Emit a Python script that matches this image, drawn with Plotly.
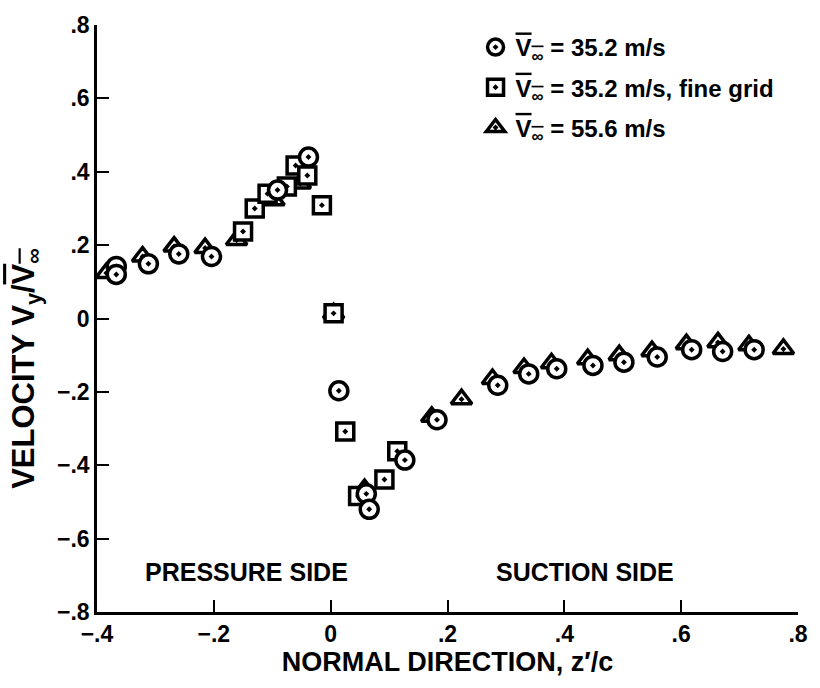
import plotly.graph_objects as go

# 35.2 m/s (circles)
circ_x = [-0.367, -0.367, -0.312, -0.26, -0.204, -0.091, -0.038, 0.014, 0.061, 0.066,
          0.127, 0.182, 0.286, 0.339, 0.387, 0.449, 0.502, 0.559, 0.618, 0.671, 0.725]
circ_y = [0.142, 0.12, 0.149, 0.176, 0.169, 0.35, 0.44, -0.197, -0.478, -0.52,
          -0.386, -0.276, -0.182, -0.151, -0.137, -0.128, -0.119, -0.105, -0.085, -0.09, -0.085]

# 35.2 m/s fine grid (squares)
sq_x = [-0.15, -0.13, -0.108, -0.075, -0.06, -0.04, -0.015, 0.005, 0.025, 0.047, 0.092, 0.114]
sq_y = [0.237, 0.30, 0.34, 0.36, 0.417, 0.39, 0.309, 0.014, -0.308, -0.484, -0.439, -0.362]

# 55.6 m/s (triangles)
tri_x = [-0.384, -0.322, -0.268, -0.215, -0.161, -0.097, -0.052, 0.005, 0.058, 0.173, 0.224,
         0.277, 0.331, 0.378, 0.44, 0.494, 0.55, 0.609, 0.663, 0.716, 0.775]
tri_y = [0.124, 0.169, 0.196, 0.192, 0.214, 0.322, 0.368, 0.014, -0.465, -0.268, -0.22,
         -0.165, -0.135, -0.122, -0.111, -0.1, -0.089, -0.07, -0.065, -0.073, -0.083]

x_ticks = [-0.4, -0.2, 0, 0.2, 0.4, 0.6, 0.8]
x_tick_text = ["\u2212.4", "\u2212.2", "0", ".2", ".4", ".6", ".8"]
y_ticks = [-0.8, -0.6, -0.4, -0.2, 0, 0.2, 0.4, 0.6, 0.8]
y_tick_text = ["\u2212.8", "\u2212.6", "\u2212.4", "\u2212.2", "0", ".2", ".4", ".6", ".8"]

VBAR = '<span style="text-decoration:overline">V<sub>\u221e</sub></span>'
names = [VBAR + " = 35.2 m/s", VBAR + " = 35.2 m/s, fine grid", VBAR + " = 55.6 m/s"]

FONT = "Liberation Sans, Arial, sans-serif"

def mk(symbol, size):
    return dict(symbol=symbol, size=size, color="white", line=dict(color="black", width=3.5))

fig = go.Figure()
fig.add_trace(go.Scatter(x=tri_x, y=tri_y, mode="markers", name=names[2], legendrank=3,
                         legendgroup="c", marker=mk("triangle-up-dot", 18)))
fig.add_trace(go.Scatter(x=sq_x, y=sq_y, mode="markers", name=names[1], legendrank=2,
                         legendgroup="b", marker=mk("square-dot", 17)))
fig.add_trace(go.Scatter(x=circ_x, y=circ_y, mode="markers", name=names[0], legendrank=1,
                         legendgroup="a", marker=mk("circle-dot", 18)))

fig.add_annotation(x=-0.144, y=-0.692, text="PRESSURE SIDE", showarrow=False,
                   font=dict(size=25, family=FONT, color="black", weight="bold"))
fig.add_annotation(x=0.436, y=-0.692, text="SUCTION SIDE", showarrow=False,
                   font=dict(size=25, family=FONT, color="black", weight="bold"))
fig.add_annotation(xref="paper", yref="paper", x=-0.132, y=0.415, textangle=-90,
                   text="VELOCITY V<sub>y</sub>/" + VBAR, showarrow=False,
                   font=dict(size=31, family=FONT, color="black", weight="bold"))

fig.update_layout(
    width=820, height=688,
    margin=dict(l=97, r=12, t=20, b=76),
    plot_bgcolor="white", paper_bgcolor="white",
    font=dict(family=FONT, color="black", size=23, weight="bold"),
    showlegend=True,
    legend=dict(x=0.54, y=1.0, xanchor="left", yanchor="top", bgcolor="rgba(0,0,0,0)",
                traceorder="grouped", tracegroupgap=6,
                font=dict(size=24, family=FONT, color="black", weight="bold")),
)
fig.update_xaxes(range=[-0.4, 0.8], tickvals=x_ticks, ticktext=x_tick_text,
                 showgrid=False, zeroline=False, showline=True, linecolor="black", linewidth=2.5,
                 ticks="inside", ticklen=12, tickwidth=2, tickcolor="black",
                 tickfont=dict(size=23, family=FONT, weight="bold"),
                 title=dict(text="NORMAL DIRECTION, z\u2032/c", standoff=6,
                            font=dict(size=27, family=FONT, weight="bold")))
fig.update_yaxes(range=[-0.8, 0.8], tickvals=y_ticks, ticktext=y_tick_text,
                 showgrid=False, zeroline=False, showline=True, linecolor="black", linewidth=2.5,
                 ticks="inside", ticklen=12, tickwidth=2, tickcolor="black",
                 tickfont=dict(size=23, family=FONT, weight="bold"))

fig.write_html("out.html")
